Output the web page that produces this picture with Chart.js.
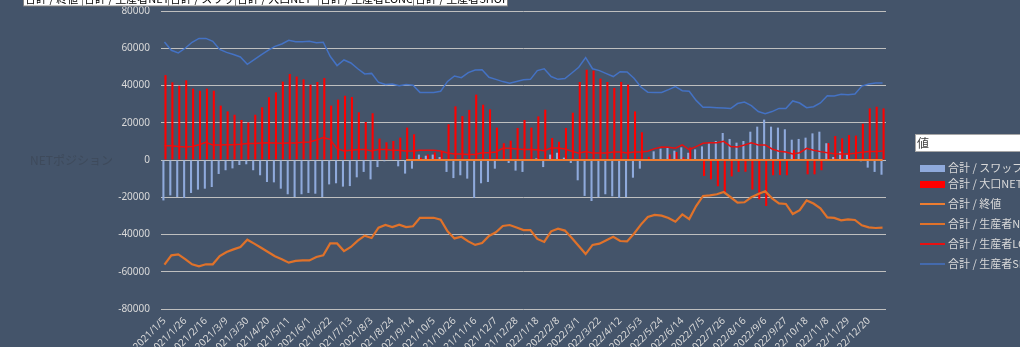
<!DOCTYPE html>
<html>
<head>
<meta charset="utf-8">
<title>COT ポジション</title>
<script src="https://cdn.jsdelivr.net/npm/chart.js@4/dist/chart.umd.min.js"></script>
<style>
html,body{margin:0;padding:0;background:#44546A;}
canvas{display:block;}
</style>
</head>
<body>
<canvas id="cotChart" width="1020" height="347"></canvas>
<script>
// weekly report dates (Tuesday), 2021/1/5 onwards
var weekCount = 105;
var weeks = [];
(function () {
    var d = new Date(2021, 0, 5);
    for (var i = 0; i < weekCount; i++) {
        weeks.push(d.getFullYear() + "/" + (d.getMonth() + 1) + "/" + d.getDate());
        d.setDate(d.getDate() + 7);
    }
})();

var yTicks = [-80000, -60000, -40000, -20000, 0, 20000, 40000, 60000, 80000];

var swapNet = [
    -21700, -19000, -19900, -20400, -17700, -15900, -15400, -14500, -7500, -5500,
    -4500, -2700, -2300, -5500, -8200, -11800, -12000, -15400, -18400, -19900,
    -18400, -17700, -18100, -19900, -13100, -12500, -14300, -14000, -9300, -6400,
    -10400, -3800, -700, -200, -3400, -7300, -4650, 2900, 2300, 2900,
    1600, -6400, -9700, -8200, -10000, -20400, -12500, -11800, -4650, -300,
    -1600, -5700, -6400, 400, 900, -3800, 2900, 3900, 1250, -1600,
    -10900, -19300, -22000, -19900, -18400, -19500, -20400, -19900, -9500, -4650,
    300, 4650, 6100, 6800, 5000, 6800, 3900, 5700, 7300, 9000,
    10200, 14500, 11300, 9300, 10200, 15200, 17900, 21700, 17900, 17400,
    16500, 10900, 11300, 12000, 14300, 15200, 9000, 1600, 4500, 3000,
    300, -700, -4100, -6400, -7900
];

var largeNet = [
    45600, 41700, 39900, 42800, 38300, 37200, 38300, 37200, 29200, 26100,
    24300, 21500, 20200, 24300, 28300, 33700, 36300, 42100, 46200, 44800,
    43300, 40500, 41900, 44000, 29200, 32400, 34500, 33800, 25600, 20400,
    25100, 11500, 9500, 10200, 12000, 17400, 13800, 1250, 3000, 4100,
    4650, 19200, 28800, 23600, 26900, 35100, 29700, 27200, 17400, 9000,
    10400, 17200, 21500, 17400, 23400, 27000, 11800, 9800, 17200, 25400,
    41900, 48500, 48000, 43700, 41900, 38700, 41900, 40500, 26100, 14900,
    1700, 300, -200, 3000, 4300, 1400, 6800, 200, -8600, -10400,
    -14100, -17200, -8800, -6400, -6300, -15900, -21100, -24700, -8200, -8100,
    -8200, 5400, 300, -7700, -7700, -5500, 9100, 12900, 11600, 13400,
    13100, 19500, 27700, 28600, 27700
];

// silver close, only reported from 2021/9/7
var closePrice = [
    null, null, null, null, null, null, null, null, null, null,
    null, null, null, null, null, null, null, null, null, null,
    null, null, null, null, null, null, null, null, null, null,
    null, null, null, null, null, 24.3, 23.8, 22.4, 22.0, 22.6,
    22.6, 24.1, 24.2, 23.6, 24.3, 25.0, 23.6, 22.8, 22.3, 21.9,
    22.5, 23.1, 23.0, 22.9, 24.0, 23.6, 22.6, 22.7, 23.4, 24.0,
    25.4, 26.3, 25.0, 25.0, 24.9, 24.6, 25.6, 25.9, 23.6, 22.3,
    21.2, 21.4, 22.0, 21.7, 22.1, 21.2, 21.4, 20.8, 19.1, 18.5,
    18.7, 18.6, 20.2, 20.4, 20.1, 19.0, 17.9, 18.0, 19.4, 19.4,
    18.8, 20.9, 18.9, 18.5, 19.3, 19.7, 21.5, 21.7, 21.0, 21.3,
    22.5, 23.8, 24.0, 23.9, 23.8
];

var producerNet = [
    -56200, -51200, -50700, -53200, -56000, -57100, -56000, -56000, -51600, -49400,
    -48000, -46700, -42800, -44900, -47100, -49400, -51700, -53300, -55100, -54200,
    -53900, -53900, -52100, -51200, -44800, -44800, -48900, -46700, -43300, -40600,
    -41900, -36300, -34900, -36000, -34700, -36000, -35600, -31100, -31100, -31000,
    -32000, -38300, -42100, -41200, -43700, -45600, -44600, -40800, -38800, -35400,
    -34900, -36200, -37600, -37600, -42400, -44000, -38300, -36900, -37900, -41900,
    -46200, -50500, -45600, -44900, -43100, -41200, -43500, -43700, -39600, -34700,
    -30600, -29500, -29900, -31100, -33100, -29200, -31700, -24700, -19300, -19000,
    -18400, -17200, -20000, -22900, -22700, -20000, -18300, -16800, -20600, -23300,
    -23600, -29000, -26900, -21700, -23400, -26000, -30800, -31100, -32400, -31900,
    -32200, -35100, -36200, -36500, -36300
];

var producerLong = [
    7700, 7700, 7200, 7000, 7200, 8200, 9500, 8100, 8100, 8200,
    8200, 8400, 8800, 8800, 9100, 9300, 9100, 9000, 9100, 9100,
    9500, 9700, 10700, 12000, 11100, 6100, 4800, 5200, 5700, 5700,
    4800, 5700, 5700, 5200, 5200, 4800, 4800, 5200, 5200, 5200,
    4800, 3800, 3200, 3200, 2900, 2900, 3900, 3900, 4300, 6300,
    6300, 5900, 5700, 5700, 5500, 5000, 6400, 6400, 5900, 4700,
    3600, 4500, 3800, 3800, 3800, 4300, 4300, 3800, 4300, 4300,
    4700, 6100, 7000, 6800, 6300, 8100, 5500, 7200, 9000, 9300,
    9300, 10000, 7300, 7000, 8100, 9300, 8100, 8100, 5900, 4700,
    4300, 3200, 3900, 6300, 5200, 4500, 3900, 3400, 3200, 3200,
    3600, 4100, 4500, 4500, 4800
];

var producerShort = [
    63400, 58900, 57500, 60000, 63200, 65300, 65300, 63700, 59400, 57800,
    56600, 55300, 51400, 53900, 56400, 58900, 61000, 62300, 64300, 63500,
    63500, 63700, 63000, 63200, 55700, 50700, 53700, 52100, 49000, 46200,
    46500, 41700, 40600, 40800, 39900, 40500, 40100, 36300, 36200, 36200,
    36900, 42200, 45100, 44200, 46900, 48300, 48500, 44400, 43300, 42100,
    41200, 42200, 43100, 43300, 48000, 49000, 44800, 43300, 43700, 46700,
    49800, 55000, 49000, 48000, 46400, 44800, 47400, 47300, 43900, 39200,
    36400, 36200, 36300, 37800, 39400, 37200, 36900, 32000, 28300, 28300,
    28100, 27900, 27600, 30300, 31100, 29200, 26000, 24900, 26000, 27700,
    27700, 31700, 30600, 28100, 28600, 30600, 34500, 34400, 35300, 35100,
    35400, 39700, 40800, 41300, 41300
];

var seriesNames = [
    "合計 / スワップNET",
    "合計 / 大口NET",
    "合計 / 終値",
    "合計 / 生産者NET",
    "合計 / 生産者LONG",
    "合計 / 生産者SHORT"
];
var seriesColors = ["#8FAADC", "#FF0000", "#ED7D31", "#E0722A", "#E81010", "#4472C4"];

// pivot field buttons along the top edge
var fieldButtons = [
    {text: "合計 / 終値", x: 23, w: 59},
    {text: "合計 / 生産者NET", x: 82, w: 86},
    {text: "合計 / スワップNET", x: 168, w: 67},
    {text: "合計 / 大口NET", x: 235, w: 83},
    {text: "合計 / 生産者LONG", x: 318, w: 95},
    {text: "合計 / 生産者SHORT", x: 413, w: 94}
];

var cjkFont = "'Noto Sans CJK JP', 'Noto Sans', sans-serif";

var pivotDecor = {
    id: "pivotDecor",
    beforeDraw: function (chart) {
        var ctx = chart.ctx;
        ctx.save();
        ctx.fillStyle = "#44546A";
        ctx.fillRect(0, 0, chart.width, chart.height);
        ctx.restore();
    },
    afterDraw: function (chart) {
        var ctx = chart.ctx;
        ctx.save();

        // field buttons, cut off by the top edge
        ctx.font = "11px " + cjkFont;
        ctx.textBaseline = "alphabetic";
        fieldButtons.forEach(function (b) {
            ctx.fillStyle = "#FFFFFF";
            ctx.fillRect(b.x, -14, b.w, 20);
            ctx.strokeStyle = "#7F7F7F";
            ctx.lineWidth = 1;
            ctx.strokeRect(b.x + 0.5, -14, b.w, 20);
            ctx.save();
            ctx.beginPath();
            ctx.rect(b.x + 1, -14, b.w - 2, 20);
            ctx.clip();
            ctx.fillStyle = "#000000";
            ctx.fillText(b.text, b.x + 2, 3);
            ctx.restore();
        });

        // axis title, nearly invisible on the dark background
        ctx.font = "12px " + cjkFont;
        ctx.fillStyle = "#3E4A5B";
        ctx.textBaseline = "middle";
        ctx.fillText("NETポジション", 30, 160);

        // legend box
        ctx.fillStyle = "#FFFFFF";
        ctx.fillRect(915, 134, 110, 18);
        ctx.strokeStyle = "#A6A6A6";
        ctx.strokeRect(915.5, 134.5, 110, 17);
        ctx.fillStyle = "#404040";
        ctx.font = "12px " + cjkFont;
        ctx.fillText("値", 917, 143);

        var rows = [168, 184, 204, 224, 244, 264];
        ctx.font = "11px " + cjkFont;
        for (var i = 0; i < seriesNames.length; i++) {
            var y = rows[i];
            if (i < 2) {
                ctx.fillStyle = seriesColors[i];
                ctx.fillRect(920, y - 3, 25, 7);
            } else {
                ctx.strokeStyle = seriesColors[i];
                ctx.lineWidth = i == 5 ? 1.5 : 2;
                ctx.beginPath();
                ctx.moveTo(920, y);
                ctx.lineTo(945, y);
                ctx.stroke();
            }
            ctx.fillStyle = "#D9D9D9";
            ctx.fillText(seriesNames[i], 948, y);
        }
        ctx.restore();
    }
};

var lineBase = {
    type: "line",
    fill: false,
    tension: 0,
    pointRadius: 0,
    pointHoverRadius: 0,
    order: 0
};

var ctx = document.getElementById("cotChart").getContext("2d");
var cotChart = new Chart(ctx, {
    type: "bar",
    data: {
        labels: weeks,
        datasets: [
            {label: seriesNames[0], data: swapNet, backgroundColor: seriesColors[0],
                categoryPercentage: 0.6, barPercentage: 1.0, order: 1},
            {label: seriesNames[1], data: largeNet, backgroundColor: seriesColors[1],
                categoryPercentage: 0.6, barPercentage: 1.0, order: 1},
            Object.assign({label: seriesNames[2], data: closePrice, borderColor: seriesColors[2], borderWidth: 2}, lineBase),
            Object.assign({label: seriesNames[3], data: producerNet, borderColor: seriesColors[3], borderWidth: 2.2}, lineBase),
            Object.assign({label: seriesNames[4], data: producerLong, borderColor: seriesColors[4], borderWidth: 1.5}, lineBase),
            Object.assign({label: seriesNames[5], data: producerShort, borderColor: seriesColors[5], borderWidth: 1.5}, lineBase)
        ]
    },
    options: {
        responsive: false,
        animation: false,
        layout: {padding: {left: 0, right: 134, top: 11, bottom: 0}},
        plugins: {
            legend: {display: false},
            tooltip: {enabled: false}
        },
        scales: {
            x: {
                grid: {display: false, drawTicks: false},
                border: {display: false},
                ticks: {
                    autoSkip: false,
                    minRotation: 45,
                    maxRotation: 45,
                    padding: 6,
                    color: "#D9D9D9",
                    font: {size: 10, family: "'Noto Sans', sans-serif"},
                    callback: function (v, i) {
                        return i % 3 === 0 ? weeks[i] : "";
                    }
                },
                afterFit: function (scale) {
                    scale.height = 38;
                }
            },
            y: {
                min: yTicks[0],
                max: yTicks[yTicks.length - 1],
                afterBuildTicks: function (scale) {
                    scale.ticks = yTicks.map(function (v) { return {value: v}; });
                },
                grid: {color: "#BFBFBF", lineWidth: 1, drawTicks: false},
                border: {display: false},
                ticks: {
                    padding: 11,
                    color: "#D9D9D9",
                    font: {size: 10, family: "'Noto Sans', sans-serif"},
                    callback: function (v) {
                        return String(v);
                    }
                },
                afterFit: function (scale) {
                    scale.width = 161;
                    // keep the end labels from pushing the plot area inwards
                    scale.paddingTop = 0;
                    scale.paddingBottom = 0;
                }
            }
        }
    },
    plugins: [pivotDecor]
});
</script>
</body>
</html>
